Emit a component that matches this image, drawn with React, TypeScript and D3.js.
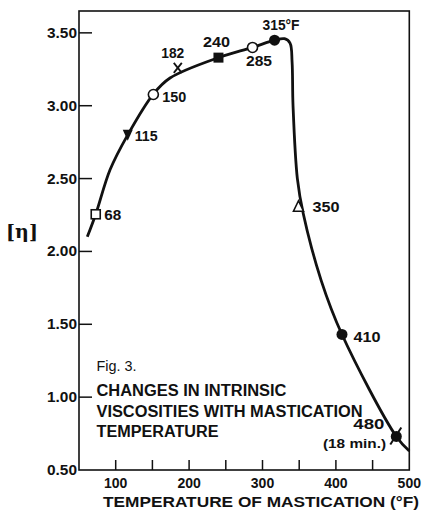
import React from "react";
import * as d3 from "d3";

// ---- data ----
const pointLabels = ["68", "115", "150", "182", "240", "285", "315°F", "350", "410", "480"];
const pointTemps = [72.8, 116.4, 151.3, 184.6, 240, 286.4, 316.4, 349, 408.3, 482.3];
const pointVisc = [2.255, 2.8, 3.077, 3.26, 3.33, 3.4, 3.45, 2.31, 1.43, 0.73];
const pointShapes = [
  "squareOpen",
  "triangleDown",
  "circleOpen",
  "cross",
  "squareFilled",
  "circleOpen",
  "circleFilled",
  "triangleUp",
  "circleFilled",
  "circleTick",
];

const curveTemps = [61.3, 72.8, 92.3, 116.4, 151.3, 174, 240, 286.4, 316.4, 330, 337.5, 340.3, 341.6, 347.5, 355.5, 380, 408.3, 482.3, 500];
const curveVisc = [2.1, 2.255, 2.56, 2.8, 3.08, 3.19, 3.33, 3.4, 3.45, 3.46, 3.43, 3.3, 3.0, 2.5, 2.26, 1.8, 1.43, 0.73, 0.63];

const yTicks = [3.5, 3.0, 2.5, 2.0, 1.5, 1.0, 0.5];
const yTickLabels = ["3.50", "3.00", "2.50", "2.00", "1.50", "1.00", "0.50"];
const xTicks = [100, 150, 200, 250, 300, 350, 400, 450];
const xTickLabels = [100, 200, 300, 400, 500];

const xTitle = "TEMPERATURE   OF   MASTICATION (°F)";
const yTitle = "[η]";
const figLabel = "Fig. 3.";
const captionLines = ["CHANGES  IN  INTRINSIC", "VISCOSITIES  WITH  MASTICATION", "TEMPERATURE"];
const extraNote = "(18 min.)";

// ---- layout ----
const W = 422;
const H = 510;
const x = d3.scaleLinear().domain([50, 500]).range([79, 409.3]);
const y = d3.scaleLinear().domain([0.5, 3.65]).range([470, 11]);

// label offsets relative to marker [dx, dy, anchor, width]
const labelLayout: [number, number, string, number][] = [
  [8.5, 5.5, "start", 17],
  [7, 6.5, "start", 23],
  [9, 7.5, "start", 24],
  [-16.5, -9.5, "start", 23],
  [-15.5, -11, "start", 27],
  [-6.5, 18.5, "start", 26],
  [-12, -10, "start", 37],
  [14, 5.5, "start", 27],
  [11.5, 7.5, "start", 27],
  [-12, -7, "end", 31],
];

const FONT = "'Liberation Sans', Arial, sans-serif";
const INK = "#111";

function Marker({ shape, cx, cy }: { shape: string; cx: number; cy: number }) {
  const sw = 1.6;
  switch (shape) {
    case "squareOpen":
      return <rect x={cx - 4.5} y={cy - 4.5} width={9} height={9} fill="#fff" stroke={INK} strokeWidth={sw} />;
    case "squareFilled":
      return <rect x={cx - 5} y={cy - 5} width={10} height={10} fill={INK} />;
    case "circleOpen":
      return <circle cx={cx} cy={cy} r={5} fill="#fff" stroke={INK} strokeWidth={sw} />;
    case "circleFilled":
      return <circle cx={cx} cy={cy} r={5.5} fill={INK} />;
    case "circleTick":
      return (
        <g>
          <circle cx={cx} cy={cy} r={5.5} fill={INK} />
          <line x1={cx - 6} y1={cy + 8} x2={cx + 5} y2={cy - 9} stroke={INK} strokeWidth={2} />
        </g>
      );
    case "triangleDown":
      return <path d={`M${cx - 5},${cy - 5} L${cx + 5},${cy - 5} L${cx},${cy + 6} Z`} fill={INK} />;
    case "triangleUp":
      return (
        <path d={`M${cx - 5},${cy + 5} L${cx + 5},${cy + 5} L${cx},${cy - 5.5} Z`} fill="#fff" stroke={INK} strokeWidth={sw} />
      );
    case "cross":
      return (
        <g stroke={INK} strokeWidth={1.8}>
          <line x1={cx - 4} y1={cy - 5} x2={cx + 4} y2={cy + 5} />
          <line x1={cx + 4} y1={cy - 5} x2={cx - 4} y2={cy + 5} />
        </g>
      );
    default:
      return null;
  }
}

export default function App() {
  const pts: [number, number][] = curveTemps.map((t, i) => [x(t), y(curveVisc[i])]);
  const lineGen = d3.line().curve(d3.curveCatmullRom.alpha(0.5));
  const path = lineGen(pts) || "";

  const x0 = x.range()[0];
  const x1 = x.range()[1];
  const y0 = y.range()[0];
  const y1 = y.range()[1];

  return (
    <svg
      width={W}
      height={H}
      style={{ position: "absolute", left: 0, top: 0, background: "#fff" }}
      fontFamily={FONT}
    >
      <rect x={0} y={0} width={W} height={H} fill="#fff" />
      {/* frame */}
      <rect x={x0} y={y1} width={x1 - x0} height={y0 - y1} fill="none" stroke={INK} strokeWidth={1.6} />

      {/* y ticks */}
      {yTicks.map((v, i) => (
        <g key={"y" + i}>
          {v > 0.5 && <line x1={x0} x2={x0 + 13} y1={y(v)} y2={y(v)} stroke={INK} strokeWidth={1.5} />}
          <text x={x0 - 2} y={y(v) + 5} textAnchor="end" fontSize={14} fontWeight="bold" fill={INK} textLength={30} lengthAdjust="spacingAndGlyphs">
            {yTickLabels[i]}
          </text>
        </g>
      ))}

      {/* x ticks */}
      {xTicks.map((v) => (
        <line key={"xt" + v} x1={x(v)} x2={x(v)} y1={y0} y2={y0 - 10} stroke={INK} strokeWidth={1.5} />
      ))}
      {xTickLabels.map((v) => (
        <text key={"xl" + v} x={x(v)} y={488} textAnchor="middle" fontSize={14} fontWeight="bold" fill={INK}>
          {v}
        </text>
      ))}

      {/* axis titles */}
      <text x={103} y={507} fontSize={14} fontWeight="bold" fill={INK} textLength={316} lengthAdjust="spacingAndGlyphs">
        {xTitle}
      </text>
      <text x={22} y={238} textAnchor="middle" fontSize={19} fontWeight="bold" fill={INK} fontFamily="'DejaVu Serif', serif">
        {yTitle}
      </text>

      {/* curve */}
      <path d={path} fill="none" stroke={INK} strokeWidth={2.8} strokeLinejoin="round" />

      {/* markers */}
      {pointTemps.map((t, i) => (
        <Marker key={"m" + i} shape={pointShapes[i]} cx={x(t)} cy={y(pointVisc[i])} />
      ))}

      {/* point labels */}
      {pointTemps.map((t, i) => {
        const [dx, dy, anchor, w] = labelLayout[i];
        return (
          <text
            key={"l" + i}
            x={x(t) + dx}
            y={y(pointVisc[i]) + dy}
            textAnchor={anchor}
            fontSize={14}
            fontWeight="bold"
            fill={INK}
            textLength={w}
            lengthAdjust="spacingAndGlyphs"
          >
            {pointLabels[i]}
          </text>
        );
      })}
      <text x={386} y={448} textAnchor="end" fontSize={13} fontWeight="bold" fill={INK} textLength={63} lengthAdjust="spacingAndGlyphs">
        {extraNote}
      </text>

      {/* caption */}
      <text x={96.5} y={371} fontSize={14} fill={INK} textLength={40} lengthAdjust="spacingAndGlyphs">
        {figLabel}
      </text>
      {captionLines.map((s, i) => (
        <text
          key={"c" + i}
          x={96.5}
          y={396 + i * 20.5}
          fontSize={16}
          fontWeight="bold"
          fill={INK}
          textLength={[190, 266, 122][i]}
          lengthAdjust="spacingAndGlyphs"
        >
          {s}
        </text>
      ))}
    </svg>
  );
}
